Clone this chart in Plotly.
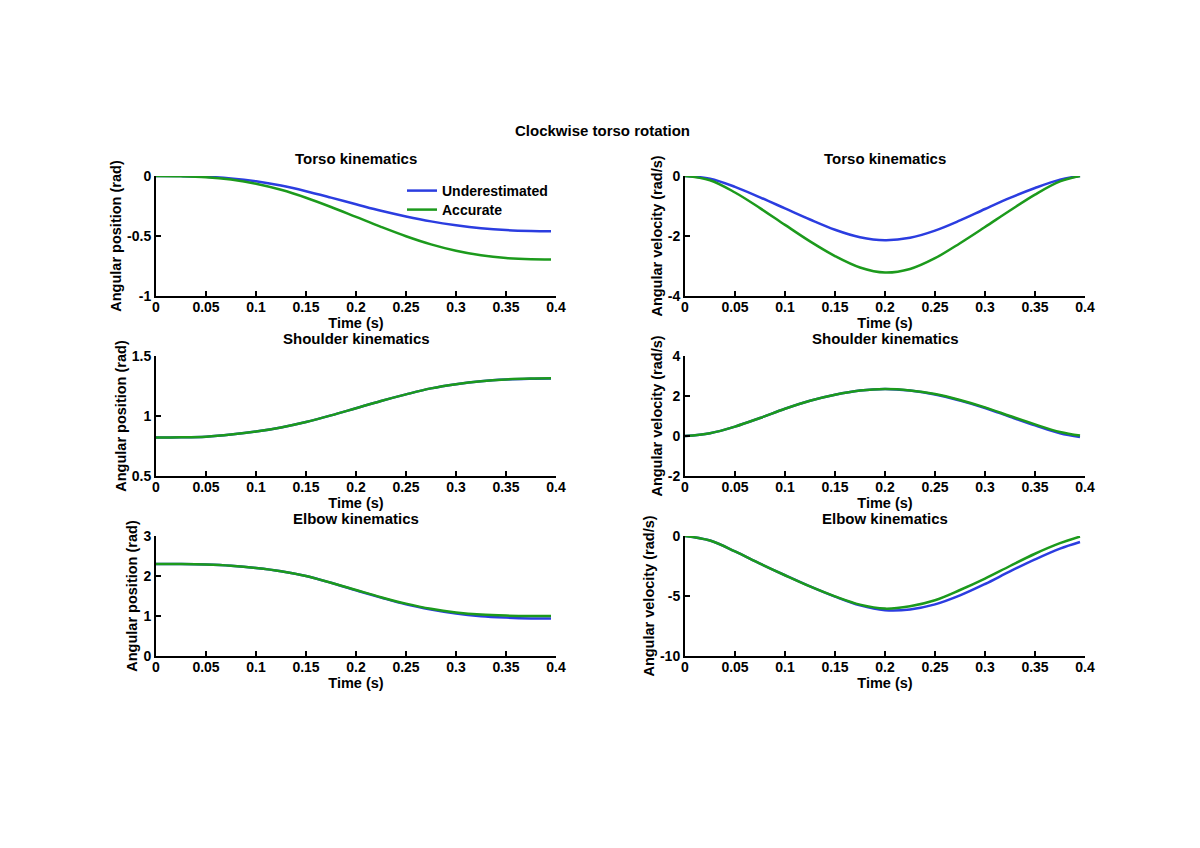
import plotly.graph_objects as go
from plotly.subplots import make_subplots

# ---- data ----
time_s = [0, 0.025, 0.05, 0.075, 0.1, 0.125, 0.15, 0.175, 0.2, 0.225,
          0.25, 0.275, 0.3, 0.325, 0.35, 0.375, 0.395]

torso_pos_under = [0, -0.001, -0.006, -0.02, -0.044, -0.08, -0.127, -0.18, -0.235,
                   -0.29, -0.337, -0.378, -0.41, -0.435, -0.451, -0.458, -0.46]
torso_pos_acc = [0, -0.002, -0.01, -0.03, -0.064, -0.115, -0.181, -0.258, -0.341,
                 -0.424, -0.502, -0.57, -0.623, -0.661, -0.684, -0.694, -0.695]

torso_vel_under = [0, -0.09, -0.36, -0.71, -1.08, -1.45, -1.79, -2.04, -2.14,
                   -2.06, -1.82, -1.48, -1.1, -0.73, -0.4, -0.12, 0]
torso_vel_acc = [0, -0.14, -0.55, -1.07, -1.63, -2.18, -2.67, -3.05, -3.22,
                 -3.1, -2.74, -2.24, -1.7, -1.15, -0.62, -0.18, 0]

shoulder_pos_under = [0.82, 0.822, 0.828, 0.845, 0.87, 0.905, 0.95, 1.005, 1.065,
                      1.125, 1.18, 1.23, 1.265, 1.29, 1.304, 1.31, 1.312]
shoulder_pos_acc = [0.82, 0.822, 0.828, 0.845, 0.87, 0.905, 0.95, 1.005, 1.065,
                    1.125, 1.18, 1.23, 1.265, 1.29, 1.305, 1.312, 1.314]

shoulder_vel_under = [0, 0.14, 0.47, 0.9, 1.36, 1.76, 2.06, 2.27, 2.35,
                      2.27, 2.08, 1.77, 1.4, 0.96, 0.53, 0.13, -0.05]
shoulder_vel_acc = [0, 0.14, 0.47, 0.9, 1.36, 1.76, 2.06, 2.27, 2.35,
                    2.28, 2.1, 1.8, 1.43, 1.0, 0.58, 0.2, 0.02]

elbow_pos_under = [2.3, 2.298, 2.285, 2.255, 2.2, 2.12, 2.0, 1.83, 1.64,
                   1.46, 1.29, 1.16, 1.06, 0.995, 0.96, 0.94, 0.935]
elbow_pos_acc = [2.3, 2.298, 2.285, 2.255, 2.2, 2.12, 2.0, 1.83, 1.65,
                 1.47, 1.31, 1.18, 1.09, 1.035, 1.01, 1.0, 1.0]

elbow_vel_under = [0, -0.38, -1.28, -2.3, -3.27, -4.2, -5.05, -5.78, -6.18,
                   -6.12, -5.7, -4.95, -4.0, -2.95, -1.95, -1.05, -0.5]
elbow_vel_acc = [0, -0.38, -1.28, -2.3, -3.27, -4.2, -5.03, -5.72, -6.05,
                 -5.85, -5.35, -4.5, -3.55, -2.5, -1.48, -0.6, -0.05]

x_ticks = [0, 0.05, 0.1, 0.15, 0.2, 0.25, 0.3, 0.35, 0.4]
x_tick_labels = ["0", "0.05", "0.1", "0.15", "0.2", "0.25", "0.3", "0.35", "0.4"]

panels = [
    # (row, col, title, ylabel, under, acc, yrange, yticks, yticklabels)
    (1, 1, "Torso kinematics", "Angular position (rad)", torso_pos_under, torso_pos_acc,
     [-1, 0], [-1, -0.5, 0], ["-1", "-0.5", "0"]),
    (1, 2, "Torso kinematics", "Angular velocity (rad/s)", torso_vel_under, torso_vel_acc,
     [-4, 0], [-4, -2, 0], ["-4", "-2", "0"]),
    (2, 1, "Shoulder kinematics", "Angular position (rad)", shoulder_pos_under, shoulder_pos_acc,
     [0.5, 1.5], [0.5, 1, 1.5], ["0.5", "1", "1.5"]),
    (2, 2, "Shoulder kinematics", "Angular velocity (rad/s)", shoulder_vel_under, shoulder_vel_acc,
     [-2, 4], [-2, 0, 2, 4], ["-2", "0", "2", "4"]),
    (3, 1, "Elbow kinematics", "Angular position (rad)", elbow_pos_under, elbow_pos_acc,
     [0, 3], [0, 1, 2, 3], ["0", "1", "2", "3"]),
    (3, 2, "Elbow kinematics", "Angular velocity (rad/s)", elbow_vel_under, elbow_vel_acc,
     [-10, 0], [-10, -5, 0], ["-10", "-5", "0"]),
]

BLUE = "#2b3de0"
GREEN = "#1c9a1c"
# page body keeps an 8px margin, so the figure is 16px smaller than the window
OFF = 8
W, H = 1200 - 2 * OFF, 848 - 2 * OFF


def px(x):
    return (x - OFF) / W


def py(y):
    return 1 - (y - OFF) / H


FS_TICK = 14
FS_AXT = 14.5
FS_TITLE = 15
fig = make_subplots(rows=3, cols=2)

col_px = {1: (156, 556), 2: (685, 1085)}
row_px = {1: (176, 296), 2: (356, 476), 3: (536, 656)}

annotations = []
for (r, c, title, ylab, under, acc, yr, yt, ytl) in panels:
    first = (r == 1 and c == 1)
    fig.add_trace(go.Scatter(x=time_s, y=under, mode="lines", name="Underestimated",
                             line=dict(color=BLUE, width=2.5, shape="spline", smoothing=1.0),
                             showlegend=first, legend="legend"), row=r, col=c)
    fig.add_trace(go.Scatter(x=time_s, y=acc, mode="lines", name="Accurate",
                             line=dict(color=GREEN, width=2.5, shape="spline", smoothing=1.0),
                             showlegend=first, legend="legend2"), row=r, col=c)
    x0, x1 = col_px[c]
    y0, y1 = row_px[r]
    fig.update_xaxes(domain=[px(x0), px(x1)], range=[0, 0.4], tickvals=x_ticks,
                     ticktext=x_tick_labels, showline=True, linecolor="black", linewidth=2,
                     ticks="inside", ticklen=5, tickwidth=2, tickcolor="black",
                     showgrid=False, zeroline=False, mirror=False, automargin=False,
                     tickfont=dict(size=FS_TICK), ticklabelstandoff=-3,
                     title=dict(text="Time (s)", standoff=0, font=dict(size=FS_AXT)),
                     row=r, col=c)
    fig.update_yaxes(domain=[py(y1), py(y0)], range=yr, tickvals=yt, ticktext=ytl,
                     showline=True, linecolor="black", linewidth=2,
                     ticks="inside", ticklen=5, tickwidth=2, tickcolor="black",
                     showgrid=False, zeroline=False, mirror=False, automargin=False,
                     tickfont=dict(size=FS_TICK),
                     title=dict(text=ylab, standoff=2, font=dict(size=FS_AXT)),
                     row=r, col=c)
    annotations.append(dict(text=title, x=px((x0 + x1) / 2), y=py(y0 - 18),
                            xref="paper", yref="paper", xanchor="center", yanchor="middle",
                            showarrow=False, font=dict(size=FS_TITLE)))

annotations.append(dict(text="Clockwise torso rotation", x=px(602), y=py(131),
                        xref="paper", yref="paper", xanchor="center", yanchor="middle",
                        showarrow=False, font=dict(size=FS_TITLE)))

legend_common = dict(xanchor="left", yanchor="top", bgcolor="rgba(0,0,0,0)",
                     font=dict(size=FS_TICK), itemwidth=30)

fig.update_layout(
    width=W, height=H,
    margin=dict(l=0, r=0, t=0, b=0),
    paper_bgcolor="white", plot_bgcolor="white",
    font=dict(family="Liberation Sans, Arial, sans-serif", size=FS_TICK, color="black",
              weight="bold"),
    annotations=annotations,
    legend=dict(x=px(402), y=py(175), **legend_common),
    legend2=dict(x=px(402), y=py(194), **legend_common),
)

fig.write_html("out.html")
